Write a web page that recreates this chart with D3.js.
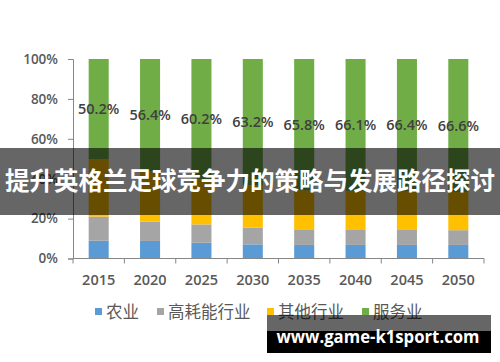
<!DOCTYPE html>
<html>
<head>
<meta charset="utf-8">
<script src="https://cdn.jsdelivr.net/npm/d3@7"></script>
<style>
body { margin: 0; background: #fff; }
</style>
</head>
<body>
<div id="graph"></div>
<script>
var w = 500, h = 362;

var years = ["2015", "2020", "2025", "2030", "2035", "2040", "2045", "2050"];
var names = ["农业", "高耗能行业", "其他行业", "服务业"];
var colors = ["#5b9bd5", "#a5a5a5", "#ffc000", "#70ad47"];
var agri = [8.9, 8.8, 7.9, 7.1, 6.8, 6.8, 6.8, 6.8];
var heavy = [12.1, 9.6, 9.2, 8.3, 7.5, 7.5, 7.5, 7.4];
var other = [28.8, 25.2, 22.7, 21.4, 19.9, 19.6, 19.3, 19.2];
var service = [50.2, 56.4, 60.2, 63.2, 65.8, 66.1, 66.4, 66.6];
var yTicks = [0, 20, 40, 60, 80, 100];
var title = "提升英格兰足球竞争力的策略与发展路径探讨";
var site = "www.game-k1sport.com";

var rows = years.map(function(y, i) {
	return {year: y, a: agri[i], b: heavy[i], c: other[i], d: service[i]};
});
var keys = ["a", "b", "c", "d"];

var svg = d3.select("#graph")
	.append("svg")
	.attr("width", w)
	.attr("height", h);

var x = d3.scaleBand().domain(years).range([73, 484]).paddingInner(0.61).paddingOuter(0.305);
var y = d3.scaleLinear().domain([0, 100]).range([258.5, 59]);

var stack = d3.stack().keys(keys)(rows);

svg.selectAll("g.layer")
	.data(stack)
	.enter().append("g")
	.attr("fill", function(d, i) { return colors[i]; })
	.selectAll("rect")
	.data(function(d) { return d; })
	.enter().append("rect")
	.attr("x", function(d) { return x(d.data.year); })
	.attr("width", x.bandwidth())
	.attr("y", function(d) { return y(d[1]); })
	.attr("height", function(d) { return y(d[0]) - y(d[1]); });

// y axis
var yAxis = svg.append("g")
	.attr("transform", "translate(73,0)")
	.call(d3.axisLeft(y).tickValues(yTicks).tickSize(5).tickPadding(10)
		.tickFormat(function(d) { return d + "%"; }));
yAxis.select(".domain").attr("stroke", "#868686");
yAxis.selectAll(".tick line").attr("stroke", "#868686");
yAxis.selectAll("text")
	.attr("font-family", "Open Sans, sans-serif")
	.attr("font-size", 13.5)
	.attr("font-weight", 600)
	.attr("fill", "#595959");

// x axis, ticks on the band edges
var xg = svg.append("g").attr("transform", "translate(0,258.5)");
xg.append("line").attr("x1", 73).attr("x2", 484).attr("stroke", "#868686");
xg.selectAll("line.tk")
	.data(d3.range(years.length + 1))
	.enter().append("line")
	.attr("x1", function(i) { return 73 + i * x.step(); })
	.attr("x2", function(i) { return 73 + i * x.step(); })
	.attr("y1", 0).attr("y2", 5)
	.attr("stroke", "#868686");
xg.selectAll("text")
	.data(years)
	.enter().append("text")
	.text(function(d) { return d; })
	.attr("x", function(d) { return x(d) + x.bandwidth() / 2; })
	.attr("y", 26)
	.attr("text-anchor", "middle")
	.attr("font-family", "Open Sans, sans-serif")
	.attr("font-size", 14.5)
	.attr("font-weight", 600)
	.attr("fill", "#595959");

// service share labels
svg.selectAll("text.lbl")
	.data(rows)
	.enter().append("text")
	.text(function(d) { return d.d.toFixed(1) + "%"; })
	.attr("x", function(d) { return x(d.year) + x.bandwidth() / 2; })
	.attr("y", function(d) { return y(100 - d.d / 2); })
	.attr("dy", "0.35em")
	.attr("text-anchor", "middle")
	.attr("font-family", "Open Sans, sans-serif")
	.attr("font-size", 14.5)
	.attr("font-weight", 600)
	.attr("fill", "#404040");

// legend
var legX = [95, 157, 267, 362];
var leg = svg.selectAll("g.leg")
	.data(names)
	.enter().append("g")
	.attr("transform", function(d, i) { return "translate(" + legX[i] + ",312)"; });
leg.append("rect")
	.attr("x", 0).attr("y", -4).attr("width", 7).attr("height", 7)
	.attr("fill", function(d, i) { return colors[i]; });
leg.append("text")
	.text(function(d) { return d; })
	.attr("x", 11)
	.attr("dy", "0.35em")
	.attr("font-family", "Noto Sans CJK SC, sans-serif")
	.attr("font-size", 16.5)
	.attr("fill", "#595959");

// title banner
svg.append("rect")
	.attr("x", 0).attr("y", 148).attr("width", w).attr("height", 67)
	.attr("fill", "#000").attr("fill-opacity", 0.6);
svg.append("text")
	.text(title)
	.attr("x", 250).attr("y", 181.5)
	.attr("dy", "0.36em")
	.attr("text-anchor", "middle")
	.attr("font-family", "Noto Sans CJK SC, sans-serif")
	.attr("font-size", 24.5)
	.attr("font-weight", "bold")
	.attr("fill", "#fff");

// watermark
svg.append("rect")
	.attr("x", 267).attr("y", 315).attr("width", 224).attr("height", 16)
	.attr("fill", "#000").attr("fill-opacity", 0.6);
svg.append("rect")
	.attr("x", 267).attr("y", 331).attr("width", 224).attr("height", 22)
	.attr("fill", "#000");
svg.append("text")
	.text(site)
	.attr("x", 378).attr("y", 337.5)
	.attr("dy", "0.35em")
	.attr("text-anchor", "middle")
	.attr("textLength", 203)
	.attr("lengthAdjust", "spacingAndGlyphs")
	.attr("font-family", "Open Sans, sans-serif")
	.attr("font-size", 17)
	.attr("font-weight", "bold")
	.attr("fill", "#fff");
</script>
</body>
</html>
